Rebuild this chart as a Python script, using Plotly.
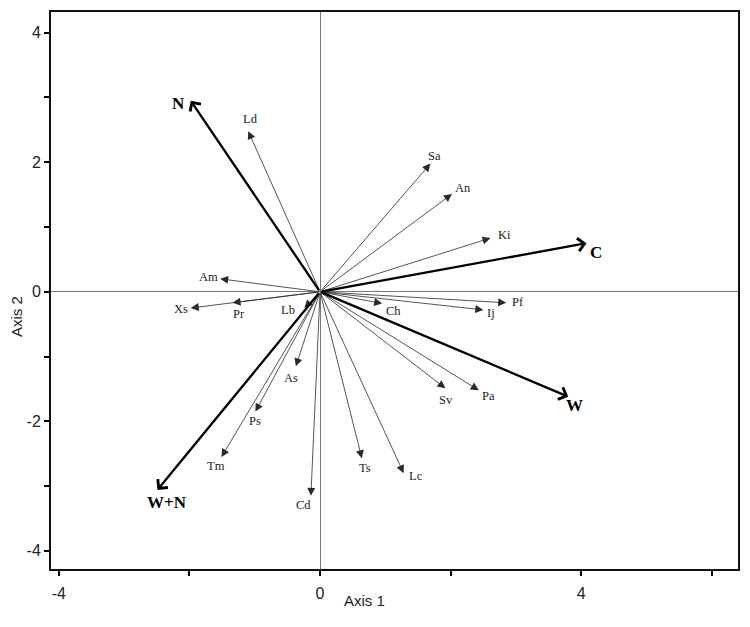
import plotly.graph_objects as go

# Species vectors (biplot scores)
species = ["Ld", "Sa", "An", "Ki", "Pf", "Ij", "Ch", "Pa", "Sv", "Lc",
           "Ts", "Cd", "As", "Ps", "Tm", "Am", "Xs", "Pr", "Lb"]
species_x = [-1.10, 1.69, 2.02, 2.61, 2.85, 2.50, 0.95, 2.43, 1.92, 1.28,
             0.64, -0.14, -0.37, -0.99, -1.51, -1.53, -1.98, -1.34, -0.24]
species_y = [2.48, 1.98, 1.51, 0.83, -0.17, -0.28, -0.18, -1.52, -1.49, -2.80,
             -2.57, -3.15, -1.15, -1.85, -2.55, 0.20, -0.25, -0.17, -0.25]

# Treatment vectors
treatments = ["N", "C", "W", "W+N"]
treat_x = [-1.98, 4.08, 3.80, -2.49]
treat_y = [2.95, 0.75, -1.62, -3.06]

# label offsets in pixels (style)
sp_off = {"Ld": (2, 12), "Sa": (4, 8), "An": (11, 6), "Ki": (14, 3), "Pf": (12, 1),
          "Ij": (8, -3), "Ch": (11, -8), "Pa": (10, -6), "Sv": (1, -12), "Lc": (12, -3),
          "Ts": (3, -10), "Cd": (-7, -9), "As": (-5, -12), "Ps": (0, -9), "Tm": (-5, -9),
          "Am": (-12, 2), "Xs": (-10, -1), "Pr": (6, -11), "Lb": (-16, -2)}
tr_off = {"N": (-12, -3), "C": (10, -9), "W": (6, -9), "W+N": (10, -13)}

fig = go.Figure()
fig.add_trace(go.Scatter(x=[0], y=[0], mode="markers", marker=dict(size=1, color="black"),
                         showlegend=False, hoverinfo="skip"))

ann = []
for n, x, y in zip(species, species_x, species_y):
    ann.append(dict(x=x, y=y, ax=0, ay=0, xref="x", yref="y", axref="x", ayref="y",
                    text="", showarrow=True, arrowhead=2, arrowsize=2, arrowwidth=0.8,
                    arrowcolor="#2a2a2a"))
    dx, dy = sp_off[n]
    ann.append(dict(x=x, y=y, xref="x", yref="y", text=n, showarrow=False,
                    xshift=dx, yshift=dy,
                    font=dict(family="Liberation Serif", size=12.5, color="#222")))
for n, x, y in zip(treatments, treat_x, treat_y):
    ann.append(dict(x=x, y=y, ax=0, ay=0, xref="x", yref="y", axref="x", ayref="y",
                    text="", showarrow=True, arrowhead=4, arrowsize=1.1, arrowwidth=2.3,
                    arrowcolor="black"))
    dx, dy = tr_off[n]
    ann.append(dict(x=x, y=y, xref="x", yref="y", text="<b>%s</b>" % n, showarrow=False,
                    xshift=dx, yshift=dy,
                    font=dict(family="Liberation Serif", size=17, color="black")))

ann.append(dict(x=365, y=601, xref="paper", yref="paper", text="Axis 1", showarrow=False,
                xanchor="center", yanchor="middle",
                font=dict(family="Liberation Sans", size=15, color="#222")))
ann.append(dict(x=17, y=316, xref="paper", yref="paper", text="Axis 2", showarrow=False,
                xanchor="center", yanchor="middle",
                textangle=-90, font=dict(family="Liberation Sans", size=15, color="#222")))

# convert paper-pixel annotations for titles
W, H = 750, 627
ml, mr, mt, mb = 51, 10, 10, 58
pw, ph = W - ml - mr, H - mt - mb
for a in ann[-2:]:
    px, py = a["x"], a["y"]
    a["x"] = (px - ml) / pw
    a["y"] = 1 - (py - mt) / ph

fig.update_layout(
    width=W, height=H,
    margin=dict(l=ml, r=mr, t=mt, b=mb),
    paper_bgcolor="white", plot_bgcolor="white",
    annotations=ann,
    showlegend=False,
    xaxis=dict(range=[-4.12, 6.40], tickvals=[-4, -2, 0, 2, 4, 6],
               ticktext=["-4", "", "0", "", "4", ""], ticks="outside", ticklen=5,
               tickwidth=1.5, tickcolor="black", showgrid=False, zeroline=True,
               zerolinecolor="#777", zerolinewidth=1, showline=True, linecolor="#111",
               linewidth=2, mirror=True, ticklabelstandoff=4,
               tickfont=dict(family="Liberation Sans", size=16, color="#222")),
    yaxis=dict(range=[-4.28, 4.32], tickvals=[-4, -3, -2, -1, 0, 1, 2, 3, 4],
               ticktext=["-4", "", "-2", "", "0", "", "2", "", "4"], ticks="outside",
               ticklen=5, tickwidth=1.5, tickcolor="black", showgrid=False, zeroline=True,
               zerolinecolor="#777", zerolinewidth=1, showline=True, linecolor="#111",
               linewidth=2, mirror=True,
               tickfont=dict(family="Liberation Sans", size=16, color="#222")),
)

fig.write_html("out.html", config={"displayModeBar": False},
               post_script="document.body.style.margin='0';")
